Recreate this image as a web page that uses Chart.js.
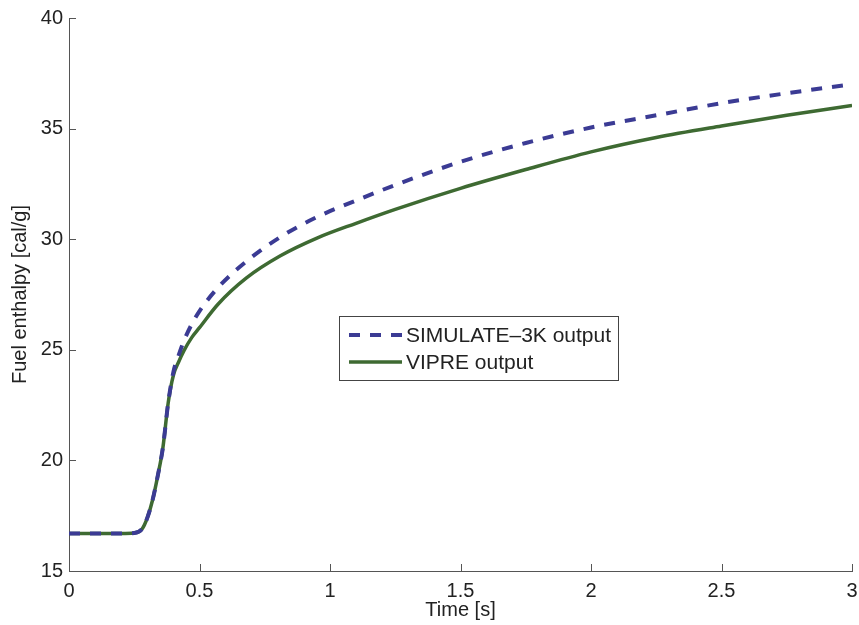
<!DOCTYPE html>
<html lang="en">
<head>
    <meta charset="UTF-8">
    <title>Fuel enthalpy</title>
    <script src="https://cdn.jsdelivr.net/npm/chart.js@4.4.1/dist/chart.umd.min.js"></script>
    <style>
        html, body { margin: 0; padding: 0; background: #fff; }
        .wrap { width: 859px; height: 625px; }
    </style>
</head>
<body>
    <div class="wrap"><canvas id="enthalpyChart"></canvas></div>

    <script>
        // time points [s] and fuel enthalpy [cal/g]
        const timeS = [0, 0.1, 0.2, 0.25, 0.28, 0.30, 0.32, 0.34, 0.36, 0.38, 0.40, 0.42, 0.44, 0.47, 0.50, 0.57, 0.68, 0.81, 0.95, 1.1, 1.25, 1.5, 1.75, 2.0, 2.25, 2.5, 2.75, 3.0];
        const simulate3k = [16.7, 16.7, 16.7, 16.72, 16.9, 17.4, 18.2, 19.3, 20.6, 22.6, 24.0, 24.75, 25.4, 26.15, 26.75, 27.8, 29.0, 30.1, 31.0, 31.75, 32.45, 33.5, 34.35, 35.05, 35.6, 36.15, 36.6, 37.0];
        const vipre = [16.7, 16.7, 16.7, 16.72, 16.9, 17.4, 18.2, 19.3, 20.6, 22.6, 23.85, 24.45, 24.95, 25.55, 26.0, 27.05, 28.25, 29.25, 30.05, 30.72, 31.35, 32.3, 33.15, 33.95, 34.6, 35.12, 35.6, 36.05];
        const seriesNames = ['SIMULATE\u20133K output', 'VIPRE output'];
        const xTicks = [0, 0.5, 1, 1.5, 2, 2.5, 3];
        const yTicks = [15, 20, 25, 30, 35, 40];

        const blue = '#3b3b94';
        const green = '#3e6a32';
        const axisColor = '#555';
        const textColor = '#222';
        const fontFamily = '"Liberation Sans", Arial, sans-serif';

        const toPoints = (xs, ys) => xs.map((x, i) => ({ x, y: ys[i] }));

        // inward tick marks like the original figure
        const innerTicks = {
            id: 'innerTicks',
            afterDraw(chart) {
                const { ctx, chartArea, scales } = chart;
                ctx.save();
                ctx.strokeStyle = axisColor;
                ctx.lineWidth = 1;
                ctx.beginPath();
                xTicks.forEach(v => {
                    const px = Math.round(scales.x.getPixelForValue(v)) + 0.5;
                    ctx.moveTo(px, chartArea.bottom);
                    ctx.lineTo(px, chartArea.bottom - 7);
                });
                yTicks.forEach(v => {
                    const py = Math.round(scales.y.getPixelForValue(v)) + 0.5;
                    ctx.moveTo(chartArea.left, py);
                    ctx.lineTo(chartArea.left + 7, py);
                });
                ctx.stroke();
                ctx.restore();
            }
        };

        // boxed legend inside the axes
        const boxLegend = {
            id: 'boxLegend',
            afterDraw(chart) {
                const { ctx, chartArea } = chart;
                const left = chartArea.left + 270;
                const top = chartArea.top + 298;
                const w = 279, h = 64;
                ctx.save();
                ctx.fillStyle = '#fff';
                ctx.fillRect(left, top, w, h);
                ctx.strokeStyle = '#444';
                ctx.lineWidth = 1;
                ctx.strokeRect(left + 0.5, top + 0.5, w, h);

                chart.data.datasets.forEach((ds, i) => {
                    const y = top + 19 + i * 27;
                    ctx.beginPath();
                    ctx.strokeStyle = ds.borderColor;
                    ctx.lineWidth = ds.borderWidth;
                    ctx.setLineDash(ds.borderDash || []);
                    ctx.moveTo(left + 10, y);
                    ctx.lineTo(left + 63, y);
                    ctx.stroke();
                    ctx.setLineDash([]);
                    ctx.fillStyle = textColor;
                    ctx.font = '21px ' + fontFamily;
                    ctx.textBaseline = 'middle';
                    ctx.fillText(ds.label, left + 67, y + 1);
                });
                ctx.restore();
            }
        };

        new Chart(document.getElementById('enthalpyChart'), {
            type: 'line',
            data: {
                datasets: [{
                    label: seriesNames[0],
                    data: toPoints(timeS, simulate3k),
                    borderColor: blue,
                    borderWidth: 4,
                    borderDash: [11, 10],
                    pointRadius: 0,
                    cubicInterpolationMode: 'monotone'
                }, {
                    label: seriesNames[1],
                    data: toPoints(timeS, vipre),
                    borderColor: green,
                    borderWidth: 3.5,
                    pointRadius: 0,
                    cubicInterpolationMode: 'monotone'
                }]
            },
            options: {
                responsive: true,
                maintainAspectRatio: false,
                animation: false,
                layout: { padding: { top: 15, right: 7, left: 0, bottom: 0 } },
                plugins: { legend: { display: false }, tooltip: { enabled: false } },
                scales: {
                    x: {
                        type: 'linear',
                        min: 0,
                        max: 3,
                        afterBuildTicks: s => { s.ticks = xTicks.map(v => ({ value: v })); },
                        afterFit: s => { s.height = 54; s.paddingLeft = 0; s.paddingRight = 0; },
                        grid: { display: false, drawTicks: false },
                        border: { display: true, color: axisColor, width: 1 },
                        ticks: {
                            padding: 8,
                            color: textColor,
                            font: { family: fontFamily, size: 20 },
                            callback: v => String(v)
                        },
                        title: {
                            display: true,
                            text: 'Time [s]',
                            color: textColor,
                            padding: { top: 0, bottom: 3 },
                            font: { family: fontFamily, size: 20 }
                        }
                    },
                    y: {
                        min: 15,
                        max: 40,
                        afterBuildTicks: s => { s.ticks = yTicks.map(v => ({ value: v })); },
                        afterFit: s => { s.width = 69; },
                        grid: { display: false, drawTicks: false },
                        border: { display: true, color: axisColor, width: 1 },
                        ticks: {
                            padding: 6,
                            color: textColor,
                            font: { family: fontFamily, size: 20 }
                        },
                        title: {
                            display: true,
                            text: 'Fuel enthalpy [cal/g]',
                            color: textColor,
                            padding: { top: 8, bottom: 0 },
                            font: { family: fontFamily, size: 20 }
                        }
                    }
                }
            },
            plugins: [innerTicks, boxLegend]
        });
    </script>
</body>
</html>
